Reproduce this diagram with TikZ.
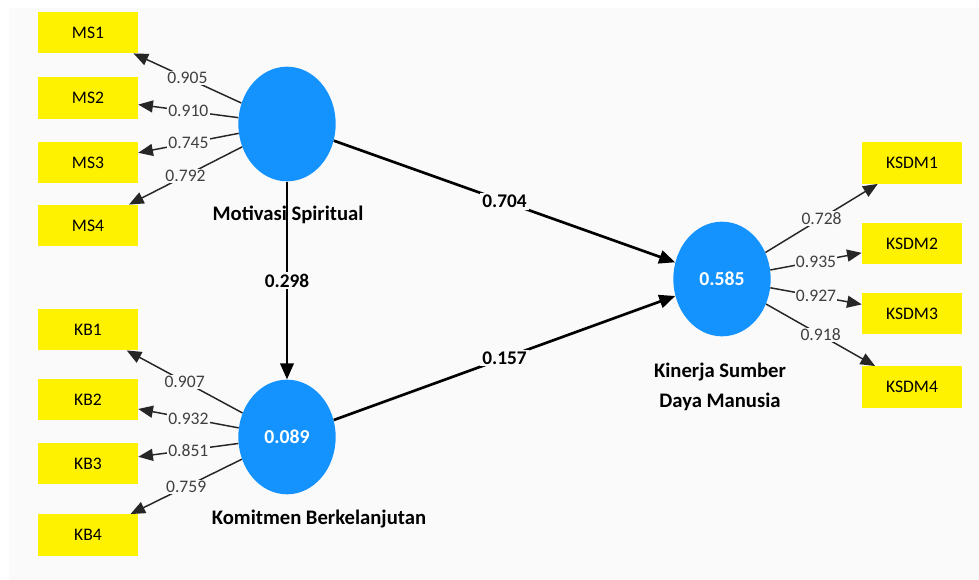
\documentclass[tikz,border=0pt]{standalone}
\usepackage{fontspec}
\setmainfont{Carlito}
\usepackage{tikz}
\usetikzlibrary{arrows.meta,shapes.geometric}
\definecolor{lvblue}{RGB}{20,147,255}
\definecolor{panelgray}{RGB}{250,250,250}
\tikzset{>={Triangle[length=12pt,width=10pt]}}
\tikzset{
	lv/.style={ellipse, fill=lvblue, inner sep=0pt, minimum width=73pt, minimum height=86pt,
		text=white, font=\fontsize{14.8}{16}\selectfont\bfseries},
	mv/.style={rectangle, fill=yellow, inner sep=0pt, minimum width=75pt, minimum height=31pt,
		font=\fontsize{13.2}{15}\selectfont},
	lvname/.style={font=\fontsize{15.5}{22.5}\selectfont\bfseries, align=center},
	loading/.style={draw=black!85, line width=1.1pt, ->, >={Triangle[length=11pt,width=9pt]}},
	path/.style={draw=black, line width=2pt, ->},
	lval/.style={fill=panelgray, inner sep=1pt, text=black!75, font=\fontsize{13.2}{15}\selectfont},
	pval/.style={fill=panelgray, inner sep=1.5pt, font=\fontsize{14.5}{16}\selectfont\bfseries}
}

\begin{document}
\begin{tikzpicture}[x=0.75pt, y=-0.75pt]
	\useasboundingbox (0, 0) rectangle (979, 580);
	\fill [white] (0, 0) rectangle (979, 580);
	\fill [panelgray] (9, 8) rectangle (979, 580);
	% latent variables
	\node [lv] (ms) at (287, 124) {};
	\node [lv] (kb) at (287, 437) {0.089};
	\node [lv] (ksdm) at (722, 279) {0.585};
	\node [lvname] (msname) at (288, 215) {Motivasi Spiritual};
	\node [lvname] (kbname) at (319, 519) {Komitmen Berkelanjutan};
	\node [lvname] (ksdmname) at (720, 387) {Kinerja Sumber\\Daya Manusia};
	% indicators
	\node [mv] (ms1) at (88, 32.5) {MS1};
	\node [mv] (ms2) at (88, 98) {MS2};
	\node [mv] (ms3) at (88, 162.5) {MS3};
	\node [mv] (ms4) at (88, 225.5) {MS4};
	\node [mv] (kb1) at (88, 329.5) {KB1};
	\node [mv] (kb2) at (88, 399.5) {KB2};
	\node [mv] (kb3) at (88, 463.5) {KB3};
	\node [mv] (kb4) at (88, 535) {KB4};
	\node [mv] (ksdm1) at (912, 163) {KSDM1};
	\node [mv] (ksdm2) at (912, 243.5) {KSDM2};
	\node [mv] (ksdm3) at (912, 313.5) {KSDM3};
	\node [mv] (ksdm4) at (912, 387) {KSDM4};
	% outer loadings
	\draw [loading] (ms) -- node [lval] {0.905} (ms1);
	\draw [loading] (ms) -- node [lval] {0.910} (ms2);
	\draw [loading] (ms) -- node [lval] {0.745} (ms3);
	\draw [loading] (ms) -- node [lval] {0.792} (ms4);
	\draw [loading] (kb) -- node [lval] {0.907} (kb1);
	\draw [loading] (kb) -- node [lval] {0.932} (kb2);
	\draw [loading] (kb) -- node [lval] {0.851} (kb3);
	\draw [loading] (kb) -- node [lval] {0.759} (kb4);
	\draw [loading] (ksdm) -- node [lval] {0.728} (ksdm1);
	\draw [loading] (ksdm) -- node [lval] {0.935} (ksdm2);
	\draw [loading] (ksdm) -- node [lval] {0.927} (ksdm3);
	\draw [loading] (ksdm) -- node [lval] {0.918} (ksdm4);
	% path coefficients
	\draw [path] (ms) -- node [pval] {0.298} (kb);
	\draw [path] (ms) -- node [pval] {0.704} (ksdm);
	\draw [path] (kb) -- node [pval] {0.157} (ksdm);
\end{tikzpicture}
\end{document}
